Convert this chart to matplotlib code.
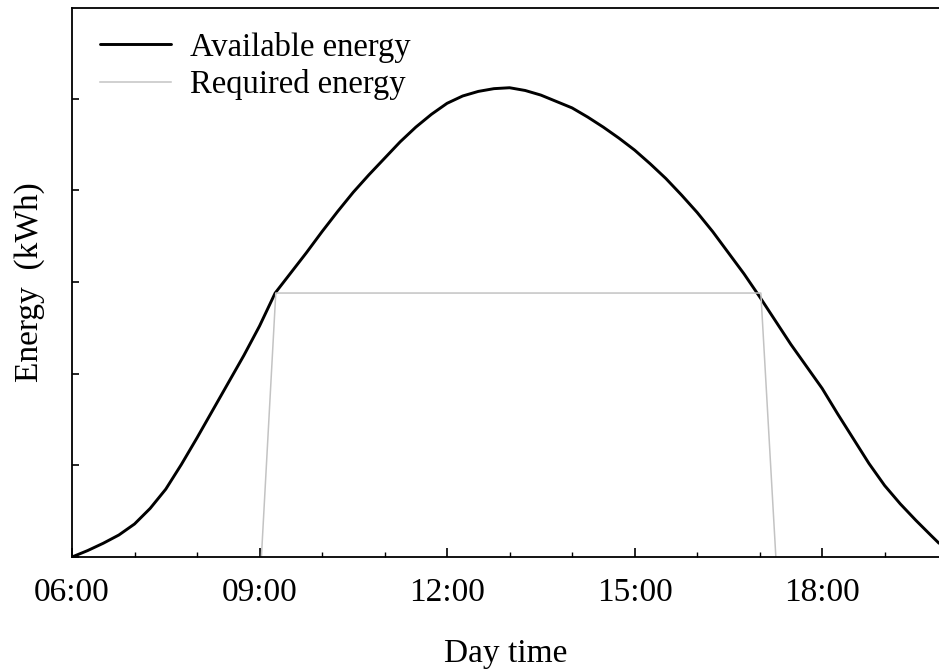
import matplotlib
matplotlib.use("Agg")
import matplotlib.pyplot as plt
from matplotlib.ticker import MultipleLocator, FuncFormatter

# Available energy over the day (hours, kWh)
avail_hours = [6.0, 6.25, 6.5, 6.75, 7.0, 7.25, 7.5, 7.75, 8.0, 8.25, 8.5, 8.75,
               9.0, 9.25, 9.5, 9.75, 10.0, 10.25, 10.5, 10.75, 11.0, 11.25, 11.5,
               11.75, 12.0, 12.25, 12.5, 12.75, 13.0, 13.25, 13.5, 13.75, 14.0,
               14.25, 14.5, 14.75, 15.0, 15.25, 15.5, 15.75, 16.0, 16.25, 16.5,
               16.75, 17.0, 17.25, 17.5, 17.75, 18.0, 18.25, 18.5, 18.75, 19.0,
               19.25, 19.5, 19.75, 19.87]
avail_energy = [0.0, 0.07, 0.15, 0.24, 0.36, 0.53, 0.74, 1.01, 1.30, 1.60, 1.90, 2.20,
                2.52, 2.88, 3.10, 3.32, 3.55, 3.77, 3.98, 4.17, 4.35, 4.53, 4.69,
                4.83, 4.95, 5.03, 5.08, 5.11, 5.12, 5.09, 5.04, 4.97, 4.90,
                4.80, 4.69, 4.57, 4.44, 4.29, 4.13, 3.95, 3.76, 3.55, 3.32,
                3.09, 2.84, 2.58, 2.32, 2.08, 1.84, 1.56, 1.29, 1.02, 0.78,
                0.58, 0.40, 0.23, 0.15]

# Required energy profile
req_hours = [9.03, 9.26, 17.02, 17.26]
req_energy = [0.0, 2.88, 2.88, 0.0]

xtick_hours = [6, 9, 12, 15, 18]

plt.rcParams['font.family'] = ['Liberation Serif', 'DejaVu Serif']

fig = plt.figure(figsize=(9.39, 6.71), dpi=100)
ax = fig.add_axes([72 / 939, 114 / 671, 1 - 72 / 939, 549 / 671])

ax.plot(avail_hours, avail_energy, color='black', lw=2.1, label='Available energy',
        solid_joinstyle='round', solid_capstyle='round')
ax.plot(req_hours, req_energy, color='#c3c3c3', lw=1.1, label='Required energy')

ax.set_xlim(6, 19.87)
ax.set_ylim(0, 5.99)

ax.xaxis.set_major_locator(plt.FixedLocator(xtick_hours))
ax.xaxis.set_major_formatter(FuncFormatter(lambda v, p: f"{int(v):02d}:00"))
ax.xaxis.set_minor_locator(MultipleLocator(1))
ax.yaxis.set_major_locator(MultipleLocator(1))
ax.set_yticklabels([])

ax.tick_params(axis='x', which='major', direction='in', length=6.5, width=1.2,
               labelsize=24, pad=15)
ax.tick_params(axis='x', which='minor', direction='in', length=3.3, width=1.0)
ax.tick_params(axis='y', which='major', direction='in', length=5, width=1.2)

for s in ('left', 'bottom', 'top'):
    ax.spines[s].set_linewidth(1.3)
ax.spines['right'].set_visible(False)

ax.set_xlabel('Day time', fontsize=24, labelpad=22)
ax.set_ylabel('Energy  (kWh)', fontsize=24, labelpad=16)

ax.legend(loc='upper left', bbox_to_anchor=(0.005, 1.0), frameon=False, fontsize=23.5,
          handlelength=2.16, handletextpad=0.6, labelspacing=0.2,
          borderaxespad=0.23, borderpad=0.5)

fig.savefig('out.png', dpi=100)
